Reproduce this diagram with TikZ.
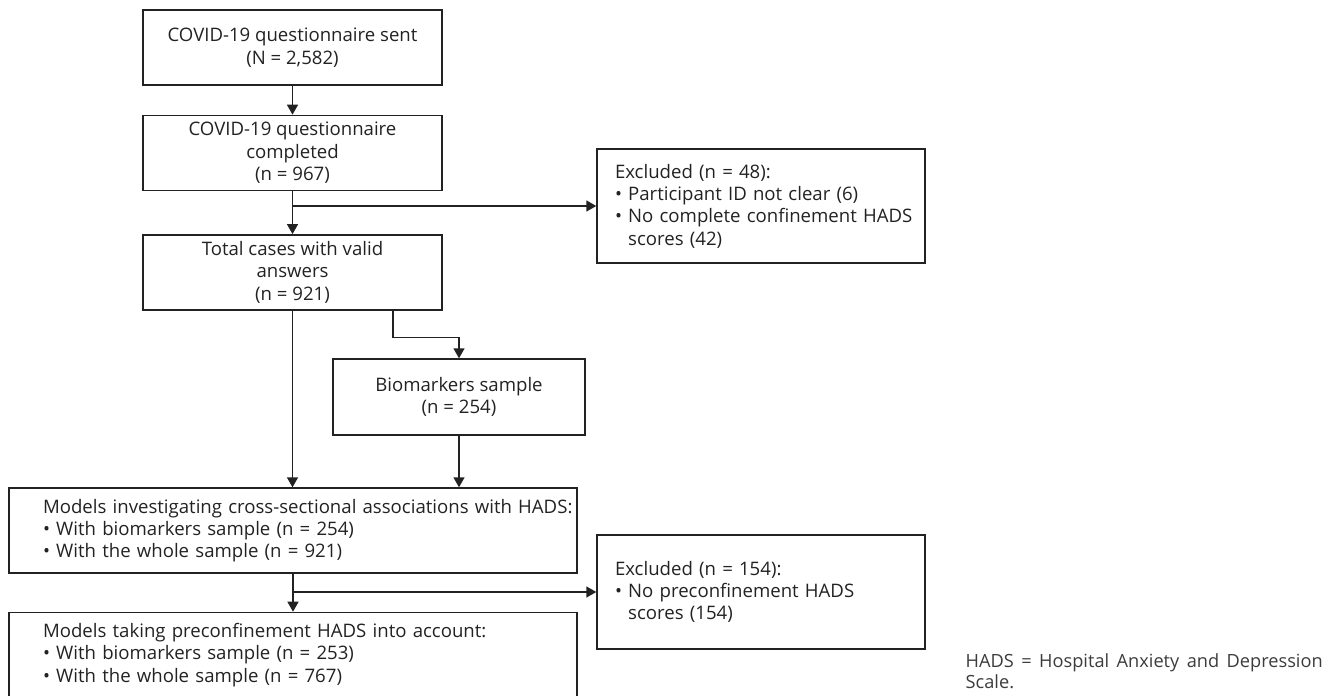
\documentclass[tikz,border=0pt]{standalone}
\usepackage{fontspec}
\setmainfont{Open Sans}
\usetikzlibrary{arrows.meta,positioning}
\definecolor{ink}{HTML}{222222}
\definecolor{jegyzet}{HTML}{3C3C3C}
\tikzset{
  nyil/.style={-{Triangle[length=10pt,width=11pt]}},
  kbox/.style={draw,minimum width=299pt,minimum height=75pt,align=center,inner sep=0pt},
  lbox/.style={draw,minimum width=568pt,minimum height=85pt,text width=500pt,inner xsep=34pt,align=left},
  xbox/.style={draw,minimum width=328pt,minimum height=114pt,text width=292pt,inner xsep=18pt,align=left},
}

\begin{document}
\begin{tikzpicture}[x=1pt,y=-1pt,font=\fontsize{18.6}{22.3}\selectfont,text=ink,
    draw=ink,line width=1.4pt]
  \useasboundingbox (0,0) rectangle (1334,696);
  % main column
  \node[kbox] (sent) at (292.5,47.5) {COVID-19 questionnaire sent\\(N = 2,582)};
  \node[kbox] (done) [below=29pt of sent] {COVID-19 questionnaire\\completed\\(n = 967)};
  \node[kbox] (valid) [below=43pt of done] {Total cases with valid\\answers\\(n = 921)};
  \node[xbox] (exc1) at (761,206) {Excluded (n = 48):\\
    • Participant ID not clear (6)\\
    \mbox{• No complete confinement HADS}\\
    \hphantom{• }scores (42)};
  \node[kbox,minimum width=252pt,minimum height=76pt] (bio) at (459,397)
    {Biomarkers sample\\(n = 254)};
  \node[lbox] (mod1) at (293,530.5)
    {\mbox{Models investigating cross-sectional associations with HADS:}\\
    • With biomarkers sample (n = 254)\\
    • With the whole sample (n = 921)};
  \node[lbox] (mod2) [below=38pt of mod1]
    {Models taking preconfinement HADS into account:\\
    • With biomarkers sample (n = 253)\\
    • With the whole sample (n = 767)};
  \node[xbox] (exc2) at (761,592) {Excluded (n = 154):\\
    • No preconfinement HADS\\
    \hphantom{• }scores (154)};
  \node[text width=357pt,align=justify,anchor=north west,inner sep=0pt,text=jegyzet,
    font=\fontsize{18.2}{21}\selectfont] (hads) at (965,653)
    {HADS = Hospital Anxiety and Depression Scale.};
  % connectors
  \coordinate (split1) at (done.south |- exc1.west);
  \coordinate (split2) at (mod1.south |- exc2.west);
  \draw[nyil] (sent) -- (done);
  \draw[nyil] (done) -- (valid);
  \draw[nyil] (split1) -- (exc1);
  \draw[nyil] (valid.south) -- (valid.south |- mod1.north);
  \draw[nyil] ([xshift=100.5pt]valid.south) -- ++(0,27) -| (bio.north);
  \draw[nyil] (bio) -- (bio.south |- mod1.north);
  \draw[nyil] (mod1) -- (mod2);
  \draw[nyil] (split2) -- (exc2);
\end{tikzpicture}
\end{document}
